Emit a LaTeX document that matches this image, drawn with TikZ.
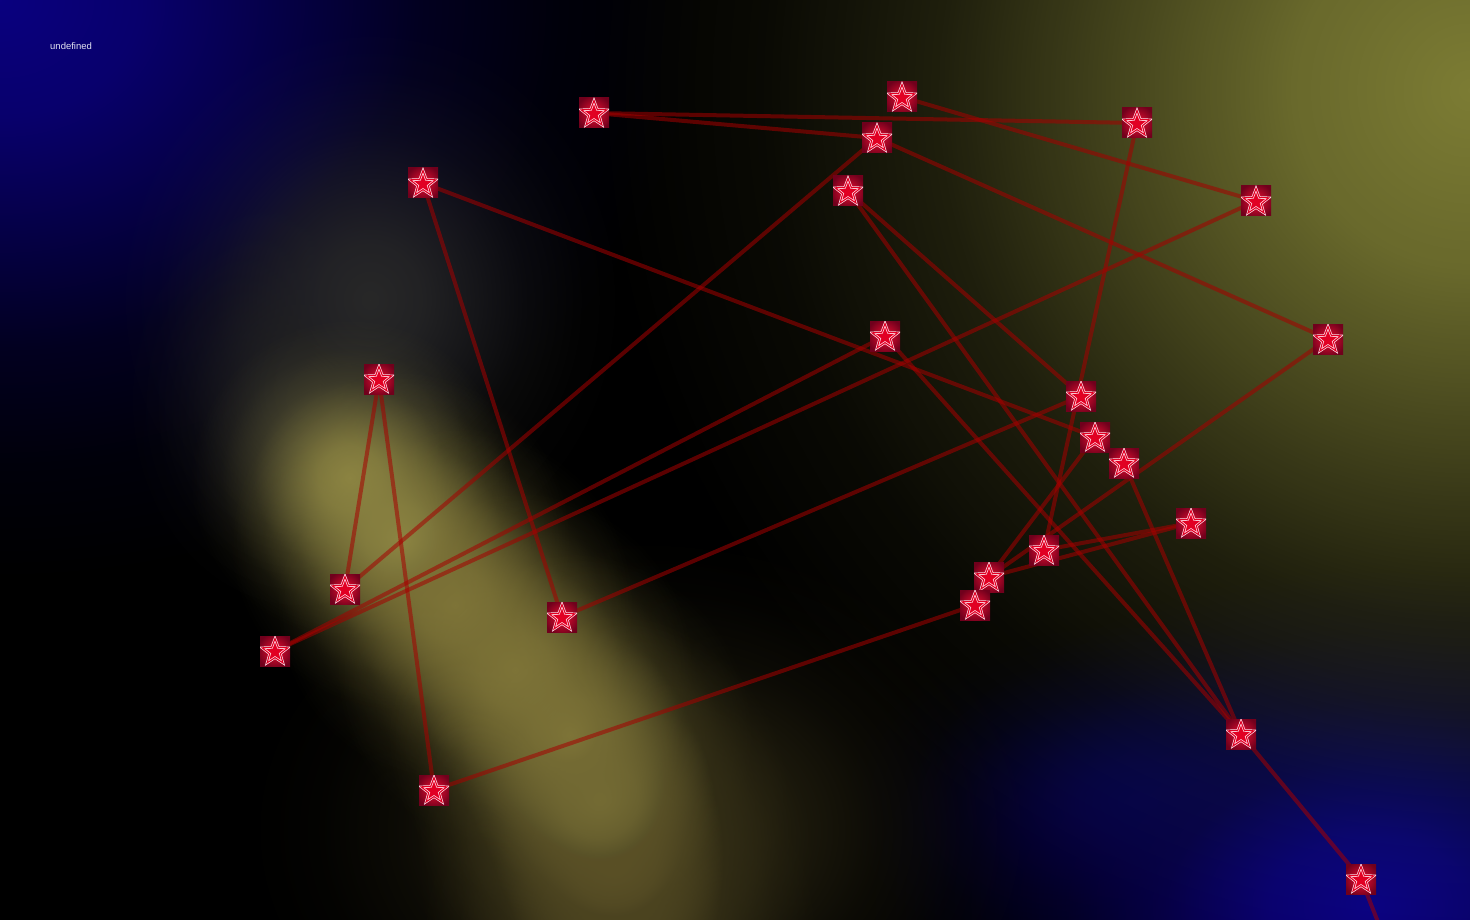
\documentclass[tikz,border=0pt]{standalone}
\usepackage{fontspec}
\setmainfont{Liberation Sans}
\usetikzlibrary{shapes.geometric,fadings}
\definecolor{tlblue}{RGB}{10,0,128}
\definecolor{brblue}{RGB}{12,0,130}
\definecolor{olivey}{RGB}{124,124,52}
\definecolor{bandy}{RGB}{140,132,66}
\definecolor{bandm}{RGB}{126,116,56}
\definecolor{bandl}{RGB}{90,80,38}
\definecolor{haze}{RGB}{40,40,40}
\definecolor{boxin}{RGB}{245,35,65}
\definecolor{boxmid}{RGB}{180,8,40}
\definecolor{boxout}{RGB}{112,0,28}
\definecolor{starfill}{RGB}{225,0,35}
\definecolor{starline}{RGB}{255,225,235}
\definecolor{linkred}{RGB}{165,0,0}
\definecolor{labelc}{RGB}{225,225,240}
\pgfdeclareradialshading{glowsh}{\pgfpointorigin}{color(0bp)=(white); color(5bp)=(white!85!black); color(10bp)=(white!55!black); color(15bp)=(white!25!black); color(20bp)=(white!8!black); color(25bp)=(black); color(50bp)=(black)}
\pgfdeclarefading{glow}{\pgfuseshading{glowsh}}
\pgfdeclareradialshading{boxsh}{\pgfpointorigin}{color(0bp)=(boxin); color(14bp)=(boxmid); color(30bp)=(boxout); color(50bp)=(boxout)}
\newcommand\myblob[5]{\fill[#5, path fading=glow, blend mode=lighten] ({#1-2*#3},{#2-2*#4}) rectangle ({#1+2*#3},{#2+2*#4});}
\tikzset{
  starnode/.style={rectangle, minimum size=30pt, inner sep=0pt, shading=boxsh,
    path picture={\node[star, star points=5, star point ratio=2.4, minimum size=27pt, inner sep=0pt,
      fill=starfill, draw=starline, line width=0.7pt, double=starfill, double distance=1.1pt]
      at ([yshift=-1pt]path picture bounding box.center) {};}},
  link/.style={draw=linkred, draw opacity=0.55, line width=4pt},
  lbl/.style={text=labelc, font=\fontsize{9.5}{11}\selectfont, anchor=west, inner sep=0pt}
}
\begin{document}
\begin{tikzpicture}[x=1pt,y=-1pt]
\fill[black] (0,0) rectangle (1470,920);
\path[use as bounding box] (0,0) rectangle (1470,920);
\clip (0,0) rectangle (1470,920);
% background glows
\myblob{0}{0}{350}{290}{tlblue}
\myblob{1470}{90}{440}{440}{olivey}
\myblob{1370}{905}{250}{170}{brblue}
\myblob{1140}{800}{150}{90}{brblue!55!black}
\myblob{370}{300}{130}{140}{haze}
\myblob{300}{400}{90}{110}{haze!85!black}
\myblob{350}{478}{80}{80}{bandy}
\myblob{400}{540}{85}{85}{bandy}
\myblob{455}{605}{90}{90}{bandm}
\myblob{515}{670}{90}{90}{bandm}
\myblob{570}{735}{92}{92}{bandm}
\myblob{600}{800}{95}{95}{bandm!92!black}
\myblob{615}{865}{100}{100}{bandl}
\myblob{620}{935}{100}{100}{bandl!85!black}
\myblob{640}{830}{200}{150}{bandl!55!black}
% node positions
\path (594,113) coordinate (pA) (902,97) coordinate (pB) (877,138) coordinate (pC)
 (1137,123) coordinate (pD) (1256,201) coordinate (pE) (423,183) coordinate (pF)
 (848,191) coordinate (pG) (885,336) coordinate (pH) (1328,339) coordinate (pI)
 (379,379) coordinate (pJ) (1081,396) coordinate (pK) (1095,437) coordinate (pL)
 (1124,463) coordinate (pM) (1191,523) coordinate (pN) (1044,550) coordinate (pO)
 (989,577) coordinate (pP) (975,605) coordinate (pQ) (345,589) coordinate (pR)
 (275,651) coordinate (pS) (562,617) coordinate (pT) (1241,734) coordinate (pU)
 (434,790) coordinate (pV) (1361,879) coordinate (pW) (1395,965) coordinate (pX);
% connectors
\draw[link] (pA) -- (pD);
\draw[link] (pA) -- (pC);
\draw[link] (pB) -- (pE);
\draw[link] (pC) -- (pR);
\draw[link] (pC) -- (pI);
\draw[link] (pD) -- (pO);
\draw[link] (pE) -- (pS);
\draw[link] (pF) -- (pT);
\draw[link] (pF) -- (pL);
\draw[link] (pG) -- (pK);
\draw[link] (pG) -- (pU);
\draw[link] (pH) -- (pS);
\draw[link] (pH) -- (pU);
\draw[link] (pI) -- (pP);
\draw[link] (pJ) -- (pR);
\draw[link] (pJ) -- (pV);
\draw[link] (pK) -- (pT);
\draw[link] (pL) -- (pP);
\draw[link] (pM) -- (pU);
\draw[link] (pN) -- (pO);
\draw[link] (pN) -- (pP);
\draw[link] (pQ) -- (pV);
\draw[link] (pU) -- (pW);
\draw[link] (pW) -- (pX);
% star boxes
\foreach \n in {A,B,C,D,E,F,G,H,I,J,K,L,M,N,O,P,Q,R,S,T,U,V,W}{
  \node[starnode] (n\n) at (p\n) {};
}
\node[lbl] (title) at (50,46) {undefined};
\end{tikzpicture}
\end{document}
